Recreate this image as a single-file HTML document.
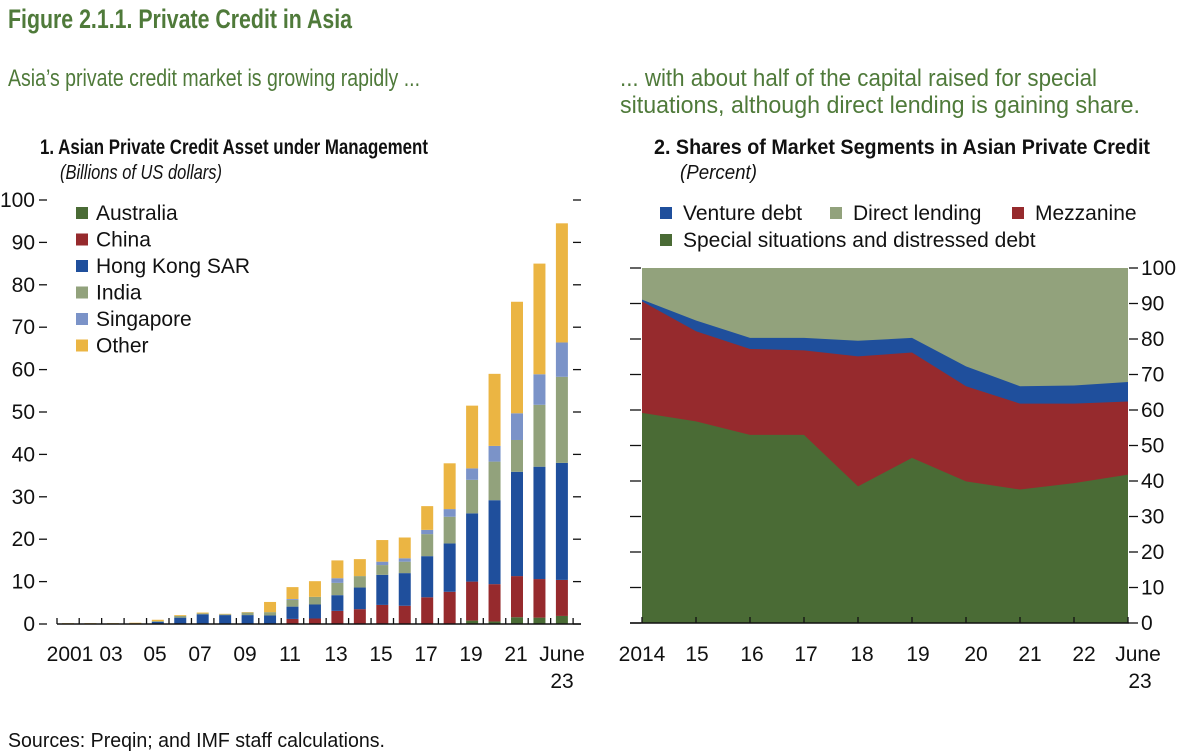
<!DOCTYPE html><html><head><meta charset="utf-8"><style>body{margin:0;background:#fff}svg{display:block}text{font-family:"Liberation Sans Narrow","Liberation Sans",sans-serif}</style></head><body>
<svg width="1200" height="755" viewBox="0 0 1200 755" xmlns="http://www.w3.org/2000/svg">
<rect width="1200" height="755" fill="#fff"/>
<g fill="#4f7a3a">
<text x="8" y="28" font-size="27" font-weight="bold" textLength="344" lengthAdjust="spacingAndGlyphs">Figure 2.1.1. Private Credit in Asia</text>
<text x="8" y="86" font-size="24" textLength="412" lengthAdjust="spacingAndGlyphs">Asia’s private credit market is growing rapidly ...</text>
<text x="620" y="86" font-size="24" textLength="477" lengthAdjust="spacingAndGlyphs">... with about half of the capital raised for special</text>
<text x="620" y="113" font-size="24" textLength="520" lengthAdjust="spacingAndGlyphs">situations, although direct lending is gaining share.</text>
</g>
<g fill="#111">
<text x="40" y="154" font-size="21" font-weight="bold" textLength="388" lengthAdjust="spacingAndGlyphs">1. Asian Private Credit Asset under Management</text>
<text x="60" y="179" font-size="20" font-style="italic" textLength="162" lengthAdjust="spacingAndGlyphs">(Billions of US dollars)</text>
<text x="654" y="154" font-size="21" font-weight="bold" textLength="496" lengthAdjust="spacingAndGlyphs">2. Shares of Market Segments in Asian Private Credit</text>
<text x="680" y="179" font-size="20" font-style="italic" textLength="77" lengthAdjust="spacingAndGlyphs">(Percent)</text>
<text x="8" y="747" font-size="20" textLength="377" lengthAdjust="spacingAndGlyphs">Sources: Preqin; and IMF staff calculations.</text>
</g>
<script>
(function(){
var ns="http://www.w3.org/2000/svg",svg=document.querySelector('svg');
function el(t,a,p){var e=document.createElementNS(ns,t);for(var k in a)e.setAttribute(k,a[k]);(p||svg).appendChild(e);return e;}
function tx(x,y,s,anc,size){var e=el('text',{x:x,y:y,'font-size':size||21,fill:'#111','text-anchor':anc||'start'});e.textContent=s;return e;}
var C=['#4a6b35','#962a2d','#1f4f9c','#92a27c','#7b93c8','#ebb543'];
var y0=624,k=4.24;
for(var v=0;v<=100;v+=10){var y=y0-v*k;tx(35,y+7,v,'end');el('line',{x1:39,x2:47,y1:y,y2:y,stroke:'#111','stroke-width':1.3});el('line',{x1:573,x2:581,y1:y,y2:y,stroke:'#111','stroke-width':1.3});}
var D=[[0,0,0,0,0,.2],[0,0,0,0,0,.2],[0,0,0,0,0,.2],[0,0,0,0,0,.3],[0,0,.5,.7,.7,1],[0,0,1.5,1.9,1.9,2.1],[0,0,2.3,2.5,2.5,2.7],[0,0,2.1,2.3,2.3,2.4],[0,0,2.1,2.7,2.7,2.8],[0,0,2,2.8,2.8,5.2],[0,1.2,4.1,5.7,5.9,8.7],[0,1.3,4.6,6.4,6.4,10.1],[0,3.1,6.8,9.7,10.8,15],[0,3.5,8.6,11.3,11.3,15.3],[0,4.5,11.6,13.9,14.7,19.8],[0,4.3,12,14.7,15.5,20.4],[0,6.3,16,21.2,22.2,27.8],[0,7.6,19,25.3,27.1,37.9],[.8,10,26.1,34,36.7,51.5],[.6,9.4,29.2,38.3,42,59],[1.6,11.3,35.9,43.4,49.7,76],[1.5,10.6,37.1,51.7,58.9,85],[1.9,10.4,38,58.3,66.4,94.5]];
D.forEach(function(d,i){var cx=68+22.45*i,prev=0;d.forEach(function(t,j){if(t>prev){el('rect',{x:cx-6,y:y0-t*k,width:12,height:(t-prev)*k,fill:C[j]});}prev=Math.max(prev,t);});
el('line',{x1:cx+11.2,x2:cx+11.2,y1:y0,y2:y0-6,stroke:'#111','stroke-width':1.3});});
el('line',{x1:57,x2:581,y1:y0,y2:y0,stroke:'#111','stroke-width':1.5});
el('line',{x1:57,x2:57,y1:y0,y2:y0-6,stroke:'#111','stroke-width':1.3});
[['2001',70],['03',111],['05',155],['07',200],['09',245],['11',290],['13',336],['15',381],['17',426],['19',471],['21',516],['June',562]].forEach(function(a){tx(a[1],661,a[0],'middle');});
tx(562,688,'23','middle');
var L=['Australia','China','Hong Kong SAR','India','Singapore','Other'];
L.forEach(function(s,i){var y=213+26.5*i;el('rect',{x:76,y:y-6,width:12,height:12,fill:C[i]});tx(96,y+7,s);});
var x0=642,dx=54,ry0=623,rk=3.55;
var G=[59.2,56.8,53,53,38.5,46.5,39.9,37.6,39.4,41.8],R=[90.6,82.2,77.2,76.8,75.1,76.2,66.7,61.8,61.8,62.4],B=[91.1,85.2,80.3,80.3,79.5,80.3,72.3,66.7,66.9,67.9];
function pts(a){return a.map(function(v,i){return (x0+dx*i)+','+(ry0-v*rk);}).join(' ');}
function area(top,c){el('polygon',{points:pts(top)+' '+(x0+dx*9)+','+ry0+' '+x0+','+ry0,fill:c});}
el('rect',{x:x0,y:ry0-100*rk,width:dx*9,height:100*rk,fill:'#92a27c'});
area(B,'#1f4f9c');area(R,'#962a2d');area(G,'#4a6b35');
for(var v=0;v<=100;v+=10){var y=ry0-v*rk;el('line',{x1:630,x2:641,y1:y,y2:y,stroke:'#111','stroke-width':1.3});el('line',{x1:1129,x2:1138,y1:y,y2:y,stroke:'#111','stroke-width':1.3});tx(1141,y+7,v);}
el('line',{x1:630,x2:1129,y1:ry0,y2:ry0,stroke:'#111','stroke-width':1.5});
for(var i=0;i<10;i++){var x=x0+dx*i;el('line',{x1:x,x2:x,y1:ry0,y2:ry0-6,stroke:'#111','stroke-width':1.3});}
[['2014',642],['15',697],['16',752],['17',806],['18',862],['19',918],['20',976],['21',1030],['22',1084],['June',1138]].forEach(function(a){tx(a[1],661,a[0],'middle');});
tx(1140,688,'23','middle');
[['Venture debt',660,213,'#1f4f9c'],['Direct lending',830,213,'#92a27c'],['Mezzanine',1012,213,'#962a2d'],['Special situations and distressed debt',660,240,'#4a6b35']].forEach(function(a){el('rect',{x:a[1],y:a[2]-6,width:12,height:12,fill:a[3]});tx(a[1]+23,a[2]+7,a[0]);});
})();
</script>
</svg></body></html>
